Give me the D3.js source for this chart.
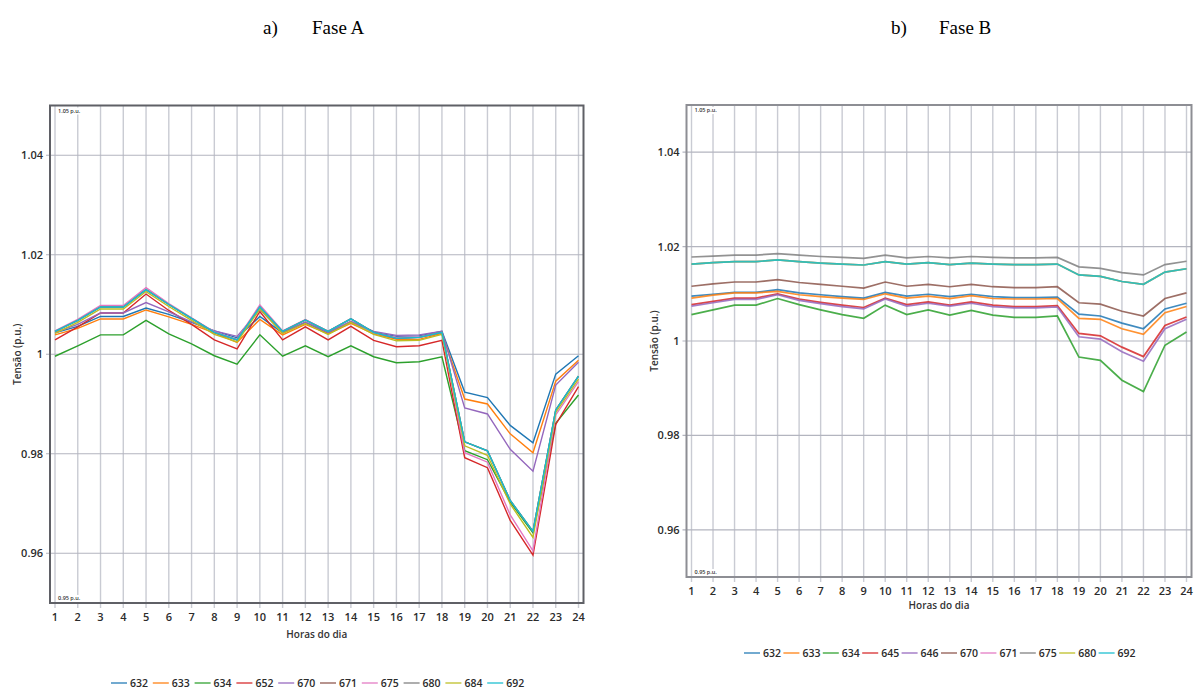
<!DOCTYPE html>
<html>
<head>
<meta charset="utf-8">
<script src="https://cdn.jsdelivr.net/npm/d3@7"></script>
<style>
  html, body { margin: 0; padding: 0; background: #ffffff; }
  svg { display: block; }
</style>
</head>
<body>
<svg id="chart" width="1196" height="690"></svg>
<script>
// Hours of the day (x categories)
const hours = [1, 2, 3, 4, 5, 6, 7, 8, 9, 10, 11, 12, 13, 14, 15, 16, 17, 18, 19, 20, 21, 22, 23, 24];

// Y axis ticks
const yTickValues = [0.96, 0.98, 1.00, 1.02, 1.04];
const yTickLabels = ["0.96", "0.98", "1", "1.02", "1.04"];
const yLimits = [0.95, 1.05];
const limitLabels = ["0.95 p.u.", "1.05 p.u."];

// Phase A bus voltages (p.u.)
const busesA = ["632", "633", "634", "652", "670", "671", "675", "680", "684", "692"];
const a632 = [1.0043, 1.0056, 1.0076, 1.0076, 1.0093, 1.0080, 1.0064, 1.0047, 1.0033, 1.0076, 1.0043, 1.0064, 1.0042, 1.0066, 1.0044, 1.0036, 1.0037, 1.0046, 0.9924, 0.9913, 0.9857, 0.9822, 0.9960, 0.9997];
const a633 = [1.0039, 1.0052, 1.0071, 1.0071, 1.0089, 1.0075, 1.0060, 1.0043, 1.0024, 1.0070, 1.0039, 1.0060, 1.0041, 1.0062, 1.0041, 1.0030, 1.0030, 1.0042, 0.9910, 0.9900, 0.9840, 0.9802, 0.9946, 0.9988];
const a634 = [0.9996, 1.0017, 1.0039, 1.0039, 1.0068, 1.0041, 1.0021, 0.9997, 0.9980, 1.0039, 0.9996, 1.0017, 0.9995, 1.0017, 0.9995, 0.9983, 0.9985, 0.9995, 0.9806, 0.9788, 0.9703, 0.9641, 0.9861, 0.9918];
const a652 = [1.0029, 1.0055, 1.0083, 1.0083, 1.0121, 1.0088, 1.0060, 1.0029, 1.0011, 1.0086, 1.0029, 1.0055, 1.0029, 1.0056, 1.0028, 1.0015, 1.0017, 1.0028, 0.9792, 0.9772, 0.9666, 0.9596, 0.9859, 0.9935];
const a670 = [1.0044, 1.0060, 1.0083, 1.0083, 1.0104, 1.0085, 1.0065, 1.0047, 1.0036, 1.0090, 1.0044, 1.0065, 1.0044, 1.0066, 1.0046, 1.0038, 1.0039, 1.0046, 0.9892, 0.9880, 0.9809, 0.9765, 0.9938, 0.9984];
const a671 = [1.0046, 1.0068, 1.0095, 1.0095, 1.0130, 1.0100, 1.0072, 1.0044, 1.0029, 1.0095, 1.0046, 1.0069, 1.0046, 1.0071, 1.0044, 1.0032, 1.0034, 1.0044, 0.9824, 0.9806, 0.9706, 0.9644, 0.9888, 0.9956];
const a675 = [1.0047, 1.0070, 1.0098, 1.0098, 1.0134, 1.0102, 1.0073, 1.0045, 1.0030, 1.0099, 1.0047, 1.0070, 1.0046, 1.0071, 1.0043, 1.0034, 1.0035, 1.0044, 0.9802, 0.9783, 0.9677, 0.9605, 0.9878, 0.9945];
const a680 = [1.0046, 1.0068, 1.0095, 1.0095, 1.0130, 1.0100, 1.0072, 1.0044, 1.0029, 1.0095, 1.0046, 1.0069, 1.0046, 1.0071, 1.0044, 1.0032, 1.0034, 1.0044, 0.9824, 0.9806, 0.9706, 0.9644, 0.9888, 0.9956];
const a684 = [1.0042, 1.0064, 1.0091, 1.0091, 1.0126, 1.0096, 1.0068, 1.0040, 1.0025, 1.0091, 1.0042, 1.0062, 1.0040, 1.0064, 1.0040, 1.0027, 1.0028, 1.0040, 0.9816, 0.9797, 0.9699, 0.9632, 0.9883, 0.9950];
const a692 = [1.0046, 1.0068, 1.0095, 1.0095, 1.0130, 1.0100, 1.0072, 1.0044, 1.0029, 1.0095, 1.0046, 1.0069, 1.0046, 1.0071, 1.0044, 1.0032, 1.0034, 1.0044, 0.9824, 0.9806, 0.9706, 0.9644, 0.9888, 0.9956];

// Phase B bus voltages (p.u.)
const busesB = ["632", "633", "634", "645", "646", "670", "671", "675", "680", "692"];
const b632 = [1.0095, 1.0099, 1.0103, 1.0103, 1.0109, 1.0102, 1.0098, 1.0094, 1.0091, 1.0103, 1.0095, 1.0099, 1.0094, 1.0099, 1.0094, 1.0092, 1.0092, 1.0093, 1.0057, 1.0053, 1.0038, 1.0026, 1.0068, 1.0080];
const b633 = [1.0091, 1.0097, 1.0102, 1.0102, 1.0105, 1.0098, 1.0094, 1.0091, 1.0088, 1.0100, 1.0091, 1.0095, 1.0090, 1.0096, 1.0090, 1.0089, 1.0089, 1.0090, 1.0048, 1.0046, 1.0026, 1.0014, 1.0060, 1.0073];
const b634 = [1.0056, 1.0066, 1.0076, 1.0076, 1.0090, 1.0077, 1.0066, 1.0056, 1.0048, 1.0076, 1.0056, 1.0066, 1.0055, 1.0065, 1.0055, 1.0050, 1.0050, 1.0053, 0.9966, 0.9959, 0.9917, 0.9893, 0.9991, 1.0019];
const b645 = [1.0077, 1.0084, 1.0091, 1.0091, 1.0100, 1.0089, 1.0082, 1.0076, 1.0071, 1.0091, 1.0077, 1.0083, 1.0076, 1.0083, 1.0076, 1.0073, 1.0073, 1.0075, 1.0016, 1.0011, 0.9987, 0.9967, 1.0033, 1.0051];
const b646 = [1.0074, 1.0081, 1.0088, 1.0088, 1.0098, 1.0086, 1.0079, 1.0073, 1.0068, 1.0089, 1.0074, 1.0080, 1.0074, 1.0080, 1.0073, 1.0070, 1.0070, 1.0072, 1.0009, 1.0004, 0.9977, 0.9957, 1.0026, 1.0046];
const b670 = [1.0116, 1.0121, 1.0125, 1.0125, 1.0130, 1.0124, 1.0120, 1.0116, 1.0112, 1.0125, 1.0116, 1.0120, 1.0115, 1.0120, 1.0115, 1.0113, 1.0113, 1.0115, 1.0081, 1.0078, 1.0063, 1.0053, 1.0090, 1.0102];
const b671 = [1.0163, 1.0166, 1.0168, 1.0168, 1.0172, 1.0168, 1.0165, 1.0163, 1.0161, 1.0168, 1.0163, 1.0166, 1.0162, 1.0165, 1.0163, 1.0162, 1.0162, 1.0163, 1.0140, 1.0137, 1.0126, 1.0120, 1.0146, 1.0153];
const b675 = [1.0178, 1.0180, 1.0182, 1.0182, 1.0185, 1.0182, 1.0179, 1.0177, 1.0175, 1.0182, 1.0176, 1.0179, 1.0176, 1.0179, 1.0177, 1.0176, 1.0176, 1.0177, 1.0157, 1.0154, 1.0145, 1.0140, 1.0162, 1.0169];
const b680 = [1.0163, 1.0166, 1.0168, 1.0168, 1.0172, 1.0168, 1.0165, 1.0163, 1.0161, 1.0168, 1.0163, 1.0166, 1.0162, 1.0165, 1.0163, 1.0162, 1.0162, 1.0163, 1.0140, 1.0137, 1.0126, 1.0120, 1.0146, 1.0153];
const b692 = [1.0163, 1.0166, 1.0168, 1.0168, 1.0172, 1.0168, 1.0165, 1.0163, 1.0161, 1.0168, 1.0163, 1.0166, 1.0162, 1.0165, 1.0163, 1.0162, 1.0162, 1.0163, 1.0140, 1.0137, 1.0126, 1.0120, 1.0146, 1.0153];

const palette = ["#1f77b4", "#ff7f0e", "#2ca02c", "#d62728", "#9467bd", "#8c564b", "#e377c2", "#7f7f7f", "#bcbd22", "#17becf"];

const panels = [
  {
    title: "a)", name: "Fase A", titleX: 263, nameX: 312,
    left: 50, right: 583.5, top: 105.5, bottom: 603,
    frame: "#5f6066", lineWidth: 1.4, lineOpacity: 1,
    buses: busesA,
    series: [a632, a633, a634, a652, a670, a671, a675, a680, a684, a692],
    xLabelY: 621, xTitleY: 638, yTitleX: 21,
    legendX: 111, legendY: 683, legendStep: 41.8
  },
  {
    title: "b)", name: "Fase B", titleX: 891, nameX: 939,
    left: 686.5, right: 1191.5, top: 105, bottom: 577,
    frame: "#8d8e94", lineWidth: 1.7, lineOpacity: 0.85,
    buses: busesB,
    series: [b632, b633, b634, b645, b646, b670, b671, b675, b680, b692],
    xLabelY: 595, xTitleY: 609, yTitleX: 658,
    legendX: 744, legendY: 653, legendStep: 39.4
  }
];

const svg = d3.select("#chart");
const tickFont = "'Open Sans', 'Noto Sans', sans-serif";

panels.forEach(p => {
  const x = d3.scaleLinear().domain([hours[0], hours[hours.length - 1]]).range([p.left + 5, p.right - 5]);
  const y = d3.scaleLinear().domain(yLimits).range([p.bottom, p.top]);
  const g = svg.append("g");

  // panel caption
  g.append("text").attr("x", p.titleX).attr("y", 34)
    .attr("font-family", "'Liberation Serif', 'Times New Roman', serif")
    .attr("font-size", 19).attr("fill", "#000").text(p.title);
  g.append("text").attr("x", p.nameX).attr("y", 34)
    .attr("font-family", "'Liberation Serif', 'Times New Roman', serif")
    .attr("font-size", 19).attr("fill", "#000").text(p.name);

  // vertical grid, one per hour
  g.append("g").selectAll("line").data(hours).join("line")
    .attr("x1", d => x(d)).attr("x2", d => x(d))
    .attr("y1", p.top).attr("y2", p.bottom + 5)
    .attr("stroke", "#c9cbd3").attr("stroke-width", 1.4);

  // horizontal grid
  g.append("g").selectAll("line").data(yTickValues).join("line")
    .attr("x1", p.left - 4).attr("x2", p.right)
    .attr("y1", d => y(d)).attr("y2", d => y(d))
    .attr("stroke", "#b3b5bf").attr("stroke-width", 1.2);

  // limit labels (top and bottom of the band)
  [[yLimits[1], limitLabels[1], 7], [yLimits[0], limitLabels[0], -3]].forEach(([v, t, dy]) => {
    const lx = p.left + 8, ly = y(v) + dy;
    g.append("rect").attr("x", lx - 1).attr("y", ly - 5).attr("width", 29).attr("height", 7).attr("fill", "#fff");
    g.append("text").attr("x", lx).attr("y", ly)
      .attr("font-family", tickFont).attr("font-size", 5.5).attr("font-weight", 600)
      .attr("fill", "#333").text(t);
  });

  // series lines
  const line = d3.line().x((d, i) => x(hours[i])).y(d => y(d));
  g.append("g").selectAll("path").data(p.series).join("path")
    .attr("d", d => line(d))
    .attr("fill", "none")
    .attr("stroke", (d, i) => palette[i])
    .attr("stroke-opacity", p.lineOpacity)
    .attr("stroke-width", p.lineWidth)
    .attr("stroke-linejoin", "miter");

  // frame
  g.append("rect").attr("x", p.left).attr("y", p.top)
    .attr("width", p.right - p.left).attr("height", p.bottom - p.top)
    .attr("fill", "none").attr("stroke", p.frame).attr("stroke-width", 2);

  // y tick labels
  g.append("g").selectAll("text").data(yTickValues).join("text")
    .attr("x", p.left - 7).attr("y", d => y(d) + 4)
    .attr("text-anchor", "end")
    .attr("font-family", tickFont).attr("font-size", 11).attr("font-weight", 600)
    .attr("fill", "#2b2b2b")
    .text((d, i) => yTickLabels[i]);

  // x tick labels
  g.append("g").selectAll("text").data(hours).join("text")
    .attr("x", d => x(d)).attr("y", p.xLabelY)
    .attr("text-anchor", "middle")
    .attr("font-family", tickFont).attr("font-size", 11).attr("font-weight", 600)
    .attr("fill", "#2b2b2b")
    .text(d => d);

  // axis titles
  g.append("text").attr("x", (p.left + p.right) / 2).attr("y", p.xTitleY)
    .attr("text-anchor", "middle")
    .attr("font-family", tickFont).attr("font-size", 10).attr("font-weight", 600)
    .attr("fill", "#333").text("Horas do dia");
  g.append("text")
    .attr("transform", `translate(${p.yTitleX},${(p.top + p.bottom) / 2}) rotate(-90)`)
    .attr("text-anchor", "middle")
    .attr("font-family", tickFont).attr("font-size", 10).attr("font-weight", 600)
    .attr("fill", "#333").text("Tensão (p.u.)");

  // legend
  const lg = g.append("g").selectAll("g").data(p.buses).join("g")
    .attr("transform", (d, i) => `translate(${p.legendX + i * p.legendStep},${p.legendY})`);
  lg.append("line").attr("x1", 0).attr("x2", 16).attr("y1", 0).attr("y2", 0)
    .attr("stroke", (d, i) => palette[i]).attr("stroke-opacity", 0.7).attr("stroke-width", 1.8);
  lg.append("text").attr("x", 19).attr("y", 4)
    .attr("font-family", tickFont).attr("font-size", 10.5).attr("font-weight", 600)
    .attr("fill", "#2b2b2b").text(d => d);
});
</script>
</body>
</html>
